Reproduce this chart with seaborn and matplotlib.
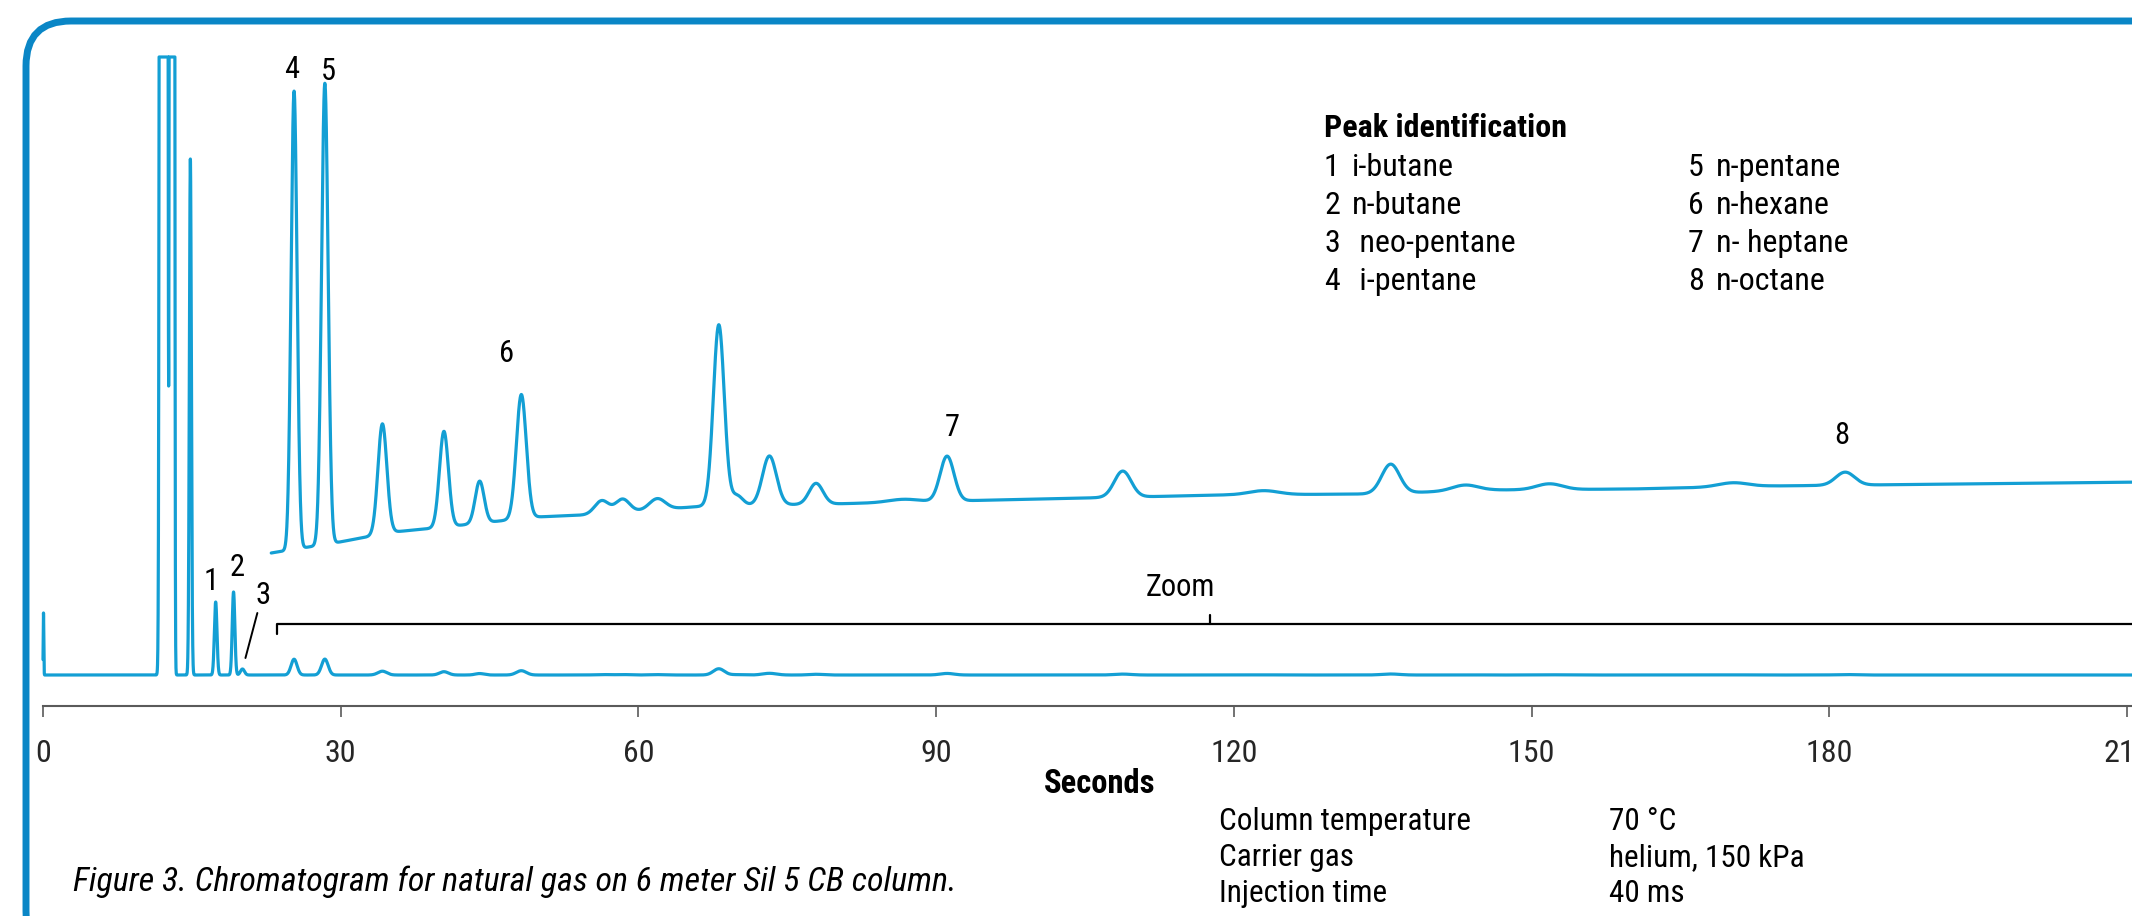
import numpy as np
import pandas as pd
import matplotlib
matplotlib.use("Agg")
import matplotlib.pyplot as plt
import seaborn as sns
from matplotlib import font_manager
from matplotlib.patches import FancyBboxPatch
from matplotlib.transforms import IdentityTransform

# peak table (time in s, height in px of the lower trace, sigma in s)
peak_time = [0.05, 12.15, 13.0, 14.85, 17.4, 19.2, 20.1,
             25.3, 28.4, 34.2, 40.4, 44.0, 48.2, 56.3, 58.4, 61.9, 68.1, 69.9, 73.2, 77.9, 86.7,
             91.1, 108.8, 123.0, 135.8, 143.3, 151.8, 170.3, 181.6]
peak_height = [62, 1.37e5, 1.37e5, 516, 73, 83, 6,
               15.8, 15.9, 3.8, 3.3, 1.45, 4.28, 0.45, 0.45, 0.38, 6.24, 0.35, 1.69, 0.72, 0.1,
               1.55, 0.9, 0.14, 1.0, 0.2, 0.2, 0.14, 0.45]
peak_sigma = [0.03, 0.14, 0.09, 0.1, 0.13, 0.13, 0.2,
              0.3, 0.33, 0.45, 0.45, 0.45, 0.5, 0.7, 0.7, 0.8, 0.55, 0.6, 0.7, 0.7, 1.5,
              0.7, 0.85, 1.5, 0.9, 1.3, 1.3, 1.5, 0.95]

# baseline of the zoomed (upper) trace
drift_time = [23.0, 29.9, 35.3, 39.5, 49.7, 54.5, 66.8, 79.2, 91.5, 105, 119, 133, 146, 160, 174, 212]
drift_offset = [122, 133, 143, 147, 158, 160, 169, 171, 174, 177, 180, 181, 185, 186, 189, 193]

zoom_factor = 29
detector_max = 618
zoom_start = 23.0

ticks = [0, 30, 60, 90, 120, 150, 180, 210]
peak_labels = ["1", "2", "3", "4", "5", "6", "7", "8"]
peak_names = ["i-butane", "n-butane", " neo-pentane", " i-pentane",
              "n-pentane", "n-hexane", "n- heptane", "n-octane"]
cond_names = ["Column temperature", "Carrier gas", "Injection time"]
cond_values = ["70 °C", "helium, 150 kPa", "40 ms"]

sns.set_theme(style="white")
available = {f.name for f in font_manager.fontManager.ttflist}
narrow = next((f for f in ["Roboto Condensed", "Liberation Sans Narrow", "DejaVu Sans Condensed"]
               if f in available), "DejaVu Sans")
plt.rcParams["font.family"] = [narrow, "DejaVu Sans"]
if narrow == "DejaVu Sans":
    plt.rcParams["font.stretch"] = "condensed"

trace_color = "#139fd4"
frame_color = "#0a86c6"

t = np.arange(0, 212, 0.01)
signal = np.zeros_like(t)
for tr, h, s in zip(peak_time, peak_height, peak_sigma):
    signal += h * np.exp(-0.5 * ((t - tr) / s) ** 2)
lower = np.minimum(signal, detector_max)
df = pd.DataFrame({"t": t, "lower": lower})
up = df[df.t >= zoom_start].copy()
up["upper"] = np.interp(up.t, drift_time, drift_offset) + zoom_factor * signal[t >= zoom_start]

fig = plt.figure(figsize=(21.32, 9.16), dpi=100)
ax = fig.add_axes([0, 0, 1, 1])
W, H = 2132, 916
px_per_s = (2127 - 43) / 210
ax.set_xlim(-43 / px_per_s, (W - 43) / px_per_s)
ax.set_ylim(675 - H, 675)

sns.lineplot(data=df, x="t", y="lower", ax=ax, color=trace_color, linewidth=2.3, estimator=None)
sns.lineplot(data=up, x="t", y="upper", ax=ax, color=trace_color, linewidth=2.3, estimator=None)

# zoom bracket
ax.plot([23.6, 23.6, 213], [41, 51, 51], color="black", lw=1.6)
ax.plot([117.6, 117.6], [51, 60], color="black", lw=1.6)
# leader line for peak 3
ax.plot([21.6, 20.4], [62, 17], color="black", lw=1.4)

sns.despine(ax=ax, left=True, top=True, right=True)
ax.spines["bottom"].set_position(("data", -31))
ax.spines["bottom"].set_bounds(0, 215)
ax.spines["bottom"].set_color("#5a5a5a")
ax.spines["bottom"].set_linewidth(1.5)
ax.set_yticks([])
ax.set_xticks(ticks)
ax.set_xticklabels([str(v) for v in ticks])
ax.tick_params(axis="x", direction="out", length=8, width=1.2, color="#5a5a5a",
               labelsize=23, pad=16, bottom=True)
ax.set_xlabel("")
ax.set_ylabel("")


def fp(x, y):
    return (x, H - y)


def label(s, x, y, size, ha="center", **kw):
    ax.annotate(s, xy=fp(x, y), xycoords="figure pixels", ha=ha, va="center",
                fontsize=size, color="black", **kw)


for s, x, y in zip(peak_labels, [211, 237, 263, 292, 328, 507, 952, 1842],
                   [582, 567, 595, 69, 71, 354, 428, 435]):
    label(s, x, y, 22)
label("Zoom", 1180, 587, 22)
label("Seconds", 1100, 784, 23.5, fontweight="bold")

label("Peak identification", 1324, 128, 23, ha="left", fontweight="bold")
rows = [167, 205, 243, 281]
for i, (num, name) in enumerate(zip(peak_labels, peak_names)):
    x0 = 1324 if i < 4 else 1688
    y0 = rows[i % 4]
    label(num, x0, y0, 23, ha="left")
    label(name, x0 + 28, y0, 23, ha="left")

for i, (n, v) in enumerate(zip(cond_names, cond_values)):
    label(n, 1219, [821, 858, 894][i], 22.5, ha="left")
    label(v, 1609, [821, 858, 894][i], 22.5, ha="left")

label("Figure 3. Chromatogram for natural gas on 6 meter Sil 5 CB column.", 73, 882, 24.5,
      ha="left", fontstyle="italic")

frame = FancyBboxPatch((26, -40), 2300, H - 21 + 40, boxstyle="round,pad=0,rounding_size=45",
                       transform=IdentityTransform(), fill=False, edgecolor=frame_color, linewidth=5)
fig.add_artist(frame)

fig.savefig("out.png", dpi=100)
